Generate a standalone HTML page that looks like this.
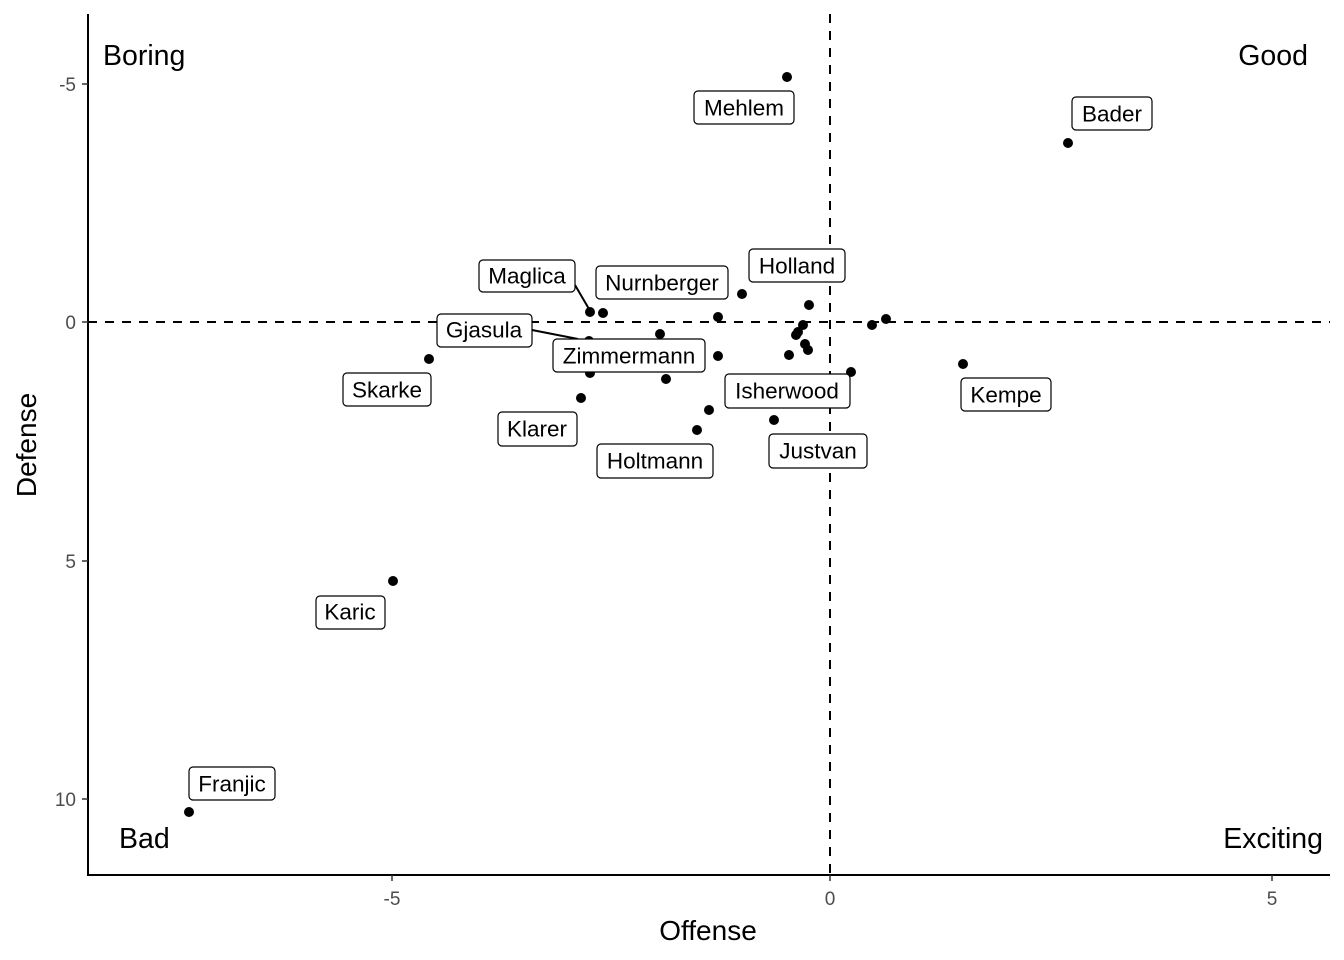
<!DOCTYPE html>
<html><head><meta charset="utf-8"><style>
html,body{margin:0;padding:0;background:#fff;}
svg{display:block;font-family:"Liberation Sans",Arial,sans-serif;}
.lb rect{fill:#fff;stroke:#000;stroke-width:1.2;}
.lb text{font-size:22.5px;text-anchor:middle;dominant-baseline:central;}
</style></head><body>
<svg width="1344" height="960" viewBox="0 0 1344 960">
<line x1="830" y1="14" x2="830" y2="875" stroke="#000" stroke-width="2" stroke-dasharray="9,8"/>
<line x1="88" y1="322" x2="1330" y2="322" stroke="#000" stroke-width="2" stroke-dasharray="9,8"/>
<line x1="88" y1="14" x2="88" y2="876" stroke="#000" stroke-width="2"/>
<line x1="87" y1="875" x2="1330" y2="875" stroke="#000" stroke-width="2"/>
<g stroke="#333" stroke-width="1.5">
<line x1="82" y1="84" x2="88" y2="84"/><line x1="82" y1="322" x2="88" y2="322"/><line x1="82" y1="561" x2="88" y2="561"/><line x1="82" y1="799" x2="88" y2="799"/>
<line x1="392" y1="875" x2="392" y2="881"/><line x1="830" y1="875" x2="830" y2="881"/><line x1="1272" y1="875" x2="1272" y2="881"/>
</g>
<g fill="#4d4d4d" font-size="19" text-anchor="end">
<text x="76" y="91">-5</text><text x="76" y="329">0</text><text x="76" y="568">5</text><text x="76" y="806">10</text>
</g>
<g fill="#4d4d4d" font-size="19" text-anchor="middle">
<text x="392" y="905">-5</text><text x="830" y="905">0</text><text x="1272" y="905">5</text>
</g>
<text x="708" y="940" font-size="28" text-anchor="middle">Offense</text>
<text transform="translate(36,445) rotate(-90)" font-size="28" text-anchor="middle">Defense</text>
<g font-size="28.5">
<text x="103" y="65">Boring</text>
<text x="1308" y="65" text-anchor="end">Good</text>
<text x="119" y="848">Bad</text>
<text x="1323" y="848" text-anchor="end">Exciting</text>
</g>
<g fill="#000">
<circle cx="787" cy="77" r="5"/><circle cx="1068" cy="143" r="5"/><circle cx="742" cy="294" r="5"/><circle cx="809" cy="305" r="5"/>
<circle cx="590" cy="312" r="5"/><circle cx="603" cy="313" r="5"/><circle cx="718" cy="317" r="5"/><circle cx="886" cy="319" r="5"/>
<circle cx="872" cy="325" r="5"/><circle cx="803" cy="325" r="5"/><circle cx="660" cy="334" r="5"/><circle cx="798" cy="332" r="5"/>
<circle cx="796" cy="335" r="5"/><circle cx="805" cy="344" r="5"/><circle cx="808" cy="350" r="5"/><circle cx="589" cy="341" r="5"/>
<circle cx="718" cy="356" r="5"/><circle cx="789" cy="355" r="5"/><circle cx="429" cy="359" r="5"/><circle cx="963" cy="364" r="5"/>
<circle cx="851" cy="372" r="5"/><circle cx="590" cy="373" r="5"/><circle cx="666" cy="379" r="5"/><circle cx="581" cy="398" r="5"/>
<circle cx="709" cy="410" r="5"/><circle cx="774" cy="420" r="5"/><circle cx="697" cy="430" r="5"/><circle cx="393" cy="581" r="5"/>
<circle cx="189" cy="812" r="5"/>
</g>
<g stroke="#000" stroke-width="2">
<line x1="575" y1="285" x2="589" y2="309"/>
<line x1="532" y1="330" x2="578" y2="339"/>
</g>
<g class="lb">
<rect x="694" y="91" width="100" height="33" rx="4"/><text x="744" y="108">Mehlem</text>
<rect x="1072" y="97" width="80" height="33" rx="4"/><text x="1112" y="114">Bader</text>
<rect x="749" y="249" width="96" height="33" rx="4"/><text x="797" y="266">Holland</text>
<rect x="479" y="260" width="96" height="32" rx="4"/><text x="527" y="276">Maglica</text>
<rect x="596" y="266" width="132" height="33" rx="4"/><text x="662" y="283">Nurnberger</text>
<rect x="437" y="314" width="95" height="33" rx="4"/><text x="484" y="330">Gjasula</text>
<rect x="553" y="339" width="152" height="33" rx="4"/><text x="629" y="356">Zimmermann</text>
<rect x="343" y="373" width="88" height="33" rx="4"/><text x="387" y="390">Skarke</text>
<rect x="725" y="374" width="125" height="34" rx="4"/><text x="787" y="391">Isherwood</text>
<rect x="961" y="378" width="90" height="33" rx="4"/><text x="1006" y="395">Kempe</text>
<rect x="498" y="412" width="79" height="34" rx="4"/><text x="537" y="429">Klarer</text>
<rect x="597" y="444" width="116" height="34" rx="4"/><text x="655" y="461">Holtmann</text>
<rect x="769" y="434" width="98" height="34" rx="4"/><text x="818" y="451">Justvan</text>
<rect x="316" y="596" width="69" height="33" rx="4"/><text x="350" y="612">Karic</text>
<rect x="189" y="767" width="86" height="33" rx="4"/><text x="232" y="784">Franjic</text>
</g>
</svg>
</body></html>
